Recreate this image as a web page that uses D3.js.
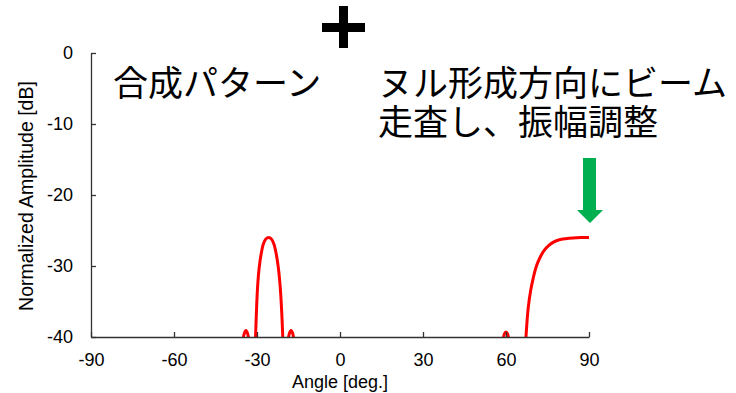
<!DOCTYPE html>
<html>
<head>
<meta charset="utf-8">
<script src="https://cdn.jsdelivr.net/npm/d3@7"></script>
<style>
  body { margin: 0; background: #fff; }
  svg { display: block; }
  .axis text { font-family: "Liberation Sans", Arial, sans-serif; font-size: 18px; fill: #000; }
  .axis path, .axis line { stroke: #333; stroke-width: 1.3; }
  .jp { font-family: "Noto Sans CJK JP", sans-serif; font-size: 35px; fill: #000; }
</style>
</head>
<body>
<script>
// tick labels
const xTicks = [-90, -60, -30, 0, 30, 60, 90];
const yTicks = [0, -10, -20, -30, -40];

// (angle in deg, level in dB)
const sideLeftAngle = [-35.2, -34.6, -34.0, -33.4, -32.8];
const sideLeftDb = [-41, -39.5, -39.1, -39.5, -41];

const mainLobeAngle = [-30.7, -30.3, -29.8, -29.2, -28.5, -27.7, -26.8, -25.8, -24.8, -23.9, -23.1, -22.3, -21.6, -21.0, -20.5];
const mainLobeDb = [-42, -37.5, -33, -30.2, -28.3, -26.9, -26.2, -26.0, -26.2, -26.9, -28.2, -30.2, -33, -37, -42];

const sideRightAngle = [-18.9, -18.3, -17.7, -17.1, -16.5];
const sideRightDb = [-41, -39.5, -39.1, -39.5, -41];

const side60Angle = [58.8, 59.4, 60.0, 60.6, 61.2];
const side60Db = [-41, -39.6, -39.3, -39.6, -41];

const riseAngle = [66.8, 67.3, 68.0, 68.9, 69.9, 71.0, 72.3, 73.8, 75.5, 77.3, 79.3, 81.6, 84.2, 87.0, 90];
const riseDb = [-43, -39.5, -36, -33.5, -31.6, -30.0, -28.8, -27.8, -27.1, -26.6, -26.3, -26.15, -26.05, -26.0, -26.0];

const segments = [
  [sideLeftAngle, sideLeftDb],
  [mainLobeAngle, mainLobeDb],
  [sideRightAngle, sideRightDb],
  [side60Angle, side60Db],
  [riseAngle, riseDb]
].map(([a, v]) => a.map((d, i) => ({angle: d, db: v[i]})));

const width = 736, height = 393;
const margin = {top: 53, right: 147, bottom: 56, left: 91};

const svg = d3.select("body").append("svg")
    .attr("width", width)
    .attr("height", height);

const x = d3.scaleLinear().domain([-90, 90]).range([margin.left, width - margin.right]);
const y = d3.scaleLinear().domain([-40, 0]).range([height - margin.bottom, margin.top]);

svg.append("clipPath").attr("id", "plot")
  .append("rect")
    .attr("x", x(-90))
    .attr("y", 0)
    .attr("width", x(90) - x(-90) + 3)
    .attr("height", y(-40));

const line = d3.line()
    .x(d => x(d.angle))
    .y(d => y(d.db))
    .curve(d3.curveCatmullRom.alpha(0.5));

svg.append("g")
    .attr("clip-path", "url(#plot)")
  .selectAll("path")
    .data(segments)
  .enter().append("path")
    .attr("d", line)
    .attr("fill", "none")
    .attr("stroke", "#ff0000")
    .attr("stroke-width", 3);

svg.append("g")
    .attr("class", "axis")
    .attr("transform", `translate(0,${y(-40)})`)
    .call(d3.axisBottom(x).tickValues(xTicks).tickFormat(d => d).tickSize(-5).tickSizeOuter(0).tickPadding(16));

svg.append("g")
    .attr("class", "axis")
    .attr("transform", `translate(${x(-90)},0)`)
    .call(d3.axisLeft(y).tickValues(yTicks).tickFormat(d => d).tickSize(-5).tickSizeOuter(0).tickPadding(18));

// axis titles
svg.append("text")
    .attr("x", x(0))
    .attr("y", 388)
    .attr("text-anchor", "middle")
    .style("font-family", "'Liberation Sans', Arial, sans-serif")
    .style("font-size", "18px")
    .text("Angle [deg.]");

svg.append("text")
    .attr("transform", `translate(33,${(y(0) + y(-40)) / 2 + 1}) rotate(-90)`)
    .attr("text-anchor", "middle")
    .style("font-family", "'Liberation Sans', Arial, sans-serif")
    .style("font-size", "19.5px")
    .text("Normalized Amplitude [dB]");

// annotations
svg.append("text").attr("class", "jp").attr("x", 113).attr("y", 96).text("合成パターン");
const note = svg.append("text").attr("class", "jp");
note.append("tspan").attr("x", 378).attr("y", 96).text("ヌル形成方向にビーム");
note.append("tspan").attr("x", 378).attr("y", 135).text("走査し、振幅調整");

// plus sign
svg.append("rect").attr("x", 339).attr("y", 6).attr("width", 9).attr("height", 42).attr("fill", "#000");
svg.append("rect").attr("x", 322).attr("y", 23).attr("width", 43).attr("height", 9).attr("fill", "#000");

// green arrow
svg.append("path")
    .attr("d", "M583,158 L596,158 L596,210 L603,210 L590,223 L577,210 L583,210 Z")
    .attr("fill", "#00b050");
</script>
</body>
</html>
